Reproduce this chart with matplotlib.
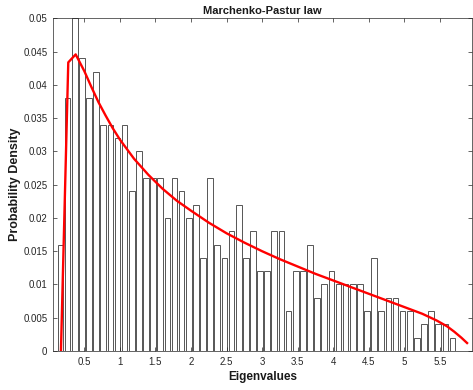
import numpy as np
import matplotlib
matplotlib.use("Agg")
import matplotlib.pyplot as plt

plt.rcParams["font.family"] = ["Liberation Sans", "DejaVu Sans"]

# histogram of eigenvalues (fraction of samples per bin)
bin_first_center = 0.165
bin_step = 0.1002
bar_heights = [
    0.016, 0.038, 0.050, 0.044, 0.038, 0.042, 0.034, 0.034, 0.032, 0.034,
    0.024, 0.030, 0.026, 0.026, 0.026, 0.020, 0.026, 0.024, 0.020, 0.022,
    0.014, 0.026, 0.016, 0.014, 0.018, 0.022, 0.014, 0.018, 0.012, 0.012,
    0.018, 0.018, 0.006, 0.012, 0.012, 0.016, 0.008, 0.010, 0.012, 0.010,
    0.010, 0.010, 0.010, 0.006, 0.014, 0.006, 0.008, 0.008, 0.006, 0.006,
    0.002, 0.004, 0.006, 0.004, 0.004, 0.002,
]

# theoretical Marchenko-Pastur curve
curve_x = [0.172, 0.275, 0.379, 0.5, 0.6, 0.7, 0.8, 0.9, 1.0, 1.2, 1.4, 1.6,
           1.8, 2.0, 2.25, 2.5, 2.75, 3.0, 3.25, 3.5, 3.75, 4.0, 4.25, 4.5,
           4.75, 5.0, 5.25, 5.45, 5.6, 5.7, 5.8, 5.88]
curve_y = [0.0, 0.0434, 0.0446, 0.0421, 0.0397, 0.0374, 0.0354, 0.0335,
           0.0318, 0.0289, 0.0265, 0.0244, 0.0226, 0.0211, 0.0193, 0.0177,
           0.0163, 0.0150, 0.0138, 0.0127, 0.0116, 0.0106, 0.0096, 0.0086,
           0.0076, 0.0066, 0.0056, 0.0046, 0.0037, 0.0029, 0.0020, 0.0012]

x_ticks = [0.5, 1, 1.5, 2, 2.5, 3, 3.5, 4, 4.5, 5, 5.5]
x_tick_labels = ["0.5", "1", "1.5", "2", "2.5", "3", "3.5", "4", "4.5", "5", "5.5"]
y_ticks = [0, 0.005, 0.01, 0.015, 0.02, 0.025, 0.03, 0.035, 0.04, 0.045, 0.05]
y_tick_labels = ["0", "0.005", "0.01", "0.015", "0.02", "0.025", "0.03",
                 "0.035", "0.04", "0.045", "0.05"]

centers = bin_first_center + bin_step * np.arange(len(bar_heights))

fig = plt.figure(figsize=(4.73, 3.9), dpi=100)
ax = fig.add_axes([0.112, 0.1, 0.886, 0.8526])

ax.bar(centers, bar_heights, width=0.08, color="white", edgecolor="#555555",
       linewidth=0.7)
ax.plot(curve_x, curve_y, color="red", linewidth=1.7)

ax.set_xlim(0.06, 5.95)
ax.set_ylim(0, 0.05)
ax.set_xticks(x_ticks, x_tick_labels)
ax.set_yticks(y_ticks, y_tick_labels)
ax.tick_params(direction="in", top=True, right=True, length=3, width=0.5,
               labelsize=7, colors="#262626", pad=4)
for spine in ax.spines.values():
    spine.set_linewidth(0.5)
    spine.set_color("#262626")

ax.set_title("Marchenko-Pastur law", fontsize=8, fontweight="bold",
             color="#1a1a1a", pad=3)
ax.set_xlabel("Eigenvalues", fontsize=8.5, fontweight="bold", color="#1a1a1a",
              labelpad=3)
ax.set_ylabel("Probability Density", fontsize=9, fontweight="bold",
              color="#1a1a1a", labelpad=2)

fig.savefig("out.png", dpi=100)
plt.close(fig)
